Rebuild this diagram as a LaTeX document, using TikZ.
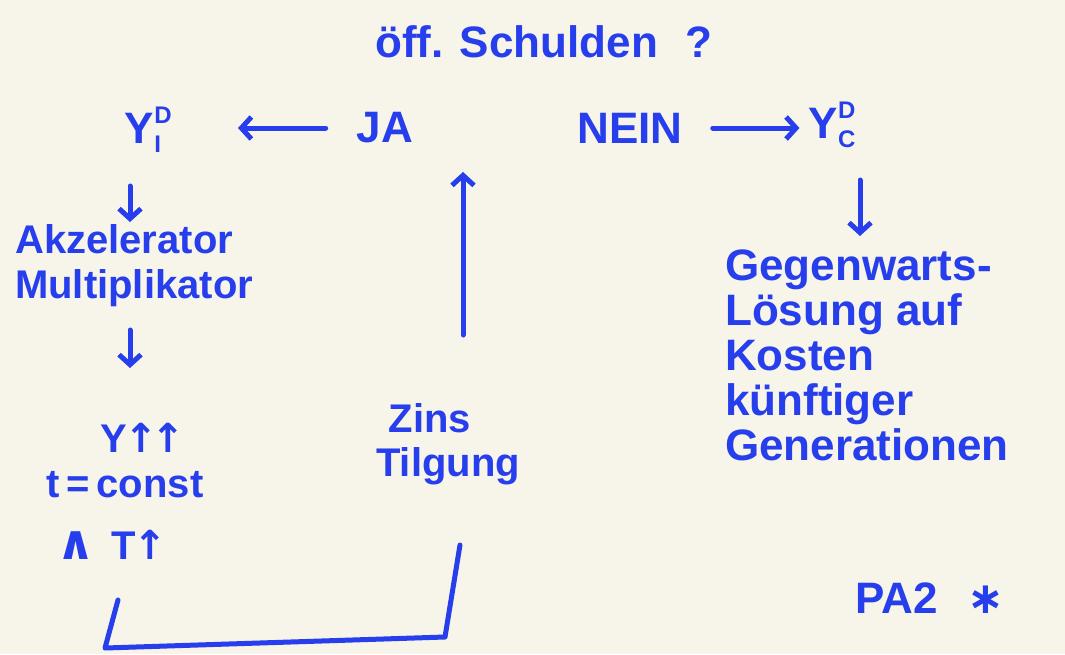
\documentclass[tikz,border=0pt]{standalone}
\usepackage{fontspec}
\setmainfont{Liberation Sans}
\newfontfamily\symf{DejaVu Sans}
\usetikzlibrary{arrows.meta}
\definecolor{ink}{RGB}{38,62,235}
\definecolor{paper}{RGB}{247,244,234}
\newcommand{\upa}{{\symf\bfseries ↑}}
\newcommand{\supD}[1]{\rlap{\raisebox{20pt}{\fontsize{24}{24}\selectfont D}}\raisebox{-9pt}{\fontsize{24}{24}\selectfont #1}}
\tikzset{
  hand/.style={text=ink, inner sep=0pt, font=\bfseries\fontsize{40}{45}\selectfont},
  big/.style={hand, font=\bfseries\fontsize{44}{50}\selectfont},
  stroke/.style={draw=ink, line width=5pt, line cap=round, line join=round},
  arr/.style={stroke, -{Straight Barb[length=10pt,width=22pt]}}
}
\begin{document}
\begin{tikzpicture}[x=1pt,y=-1pt]
\fill[paper] (0,0) rectangle (1065,654);
\useasboundingbox (0,0) rectangle (1065,654);
% top question
\node[big, anchor=west] (q) at (375,42) {öff. Schulden\hspace{28pt}?};
\node[big] (ja) at (385,128) {JA};
\node[big] (nein) at (630,128) {NEIN};
\node[big] (yi) at (143,130) {Y\supD{I}};
\node[big] (yc) at (832,125) {Y\supD{C}};
% left column
\node[hand, anchor=north west, align=left] (akz) at (15,224) {Akzelerator\\Multiplikator};
\node[hand] (yuu) at (143,438) {Y\hspace{-3pt}\upa\hspace{-6pt}\upa};
\node[hand] (tc) at (125,485) {t\,=\,const};
\node[hand] (and) at (112,545) {{\symf\bfseries\fontsize{48}{48}\selectfont ∧}\hspace{16pt}T\hspace{-2pt}\upa};
% middle
\node[hand, anchor=north] (zins) at (430,403) {Zins};
\node[hand, anchor=north] (tilg) at (448,447) {Tilgung};
% right column
\node[hand, anchor=north west, align=left, font=\bfseries\fontsize{44}{45}\selectfont] (geg) at (725,250) {Gegenwarts-\\Lösung auf\\Kosten\\künftiger\\Generationen};
\node[big] (pa) at (930,598) {PA2\hspace{30pt}{\symf ∗}};
% connectors
\draw[arr, shorten <=31pt] (ja.west) -- (ja.west -| 238,0);
\draw[arr, shorten <=30pt, shorten >=9pt] (nein.east) -- (nein.east -| yc.west);
\coordinate (d1) at (130,186);
\draw[arr, shorten >=2pt] (d1) -- (d1 |- akz.north);
\coordinate (d2) at (130,330);
\coordinate (d3) at (130,368);
\draw[arr] (d2) -- (d3);
\coordinate (d4) at (860,180);
\draw[arr, shorten >=14pt] (d4) -- (d4 |- geg.north);
\coordinate (b0) at (118,600);
\coordinate (b1) at (105,648);
\coordinate (b2) at (445,637);
\coordinate (b3) at (460,545);
\draw[stroke] (b0) -- (b1) -- (b2) -- (b3);
\coordinate (u0) at (463,335);
\coordinate (u1) at (463,172);
\draw[arr] (u0) -- (u1);
\end{tikzpicture}
\end{document}
